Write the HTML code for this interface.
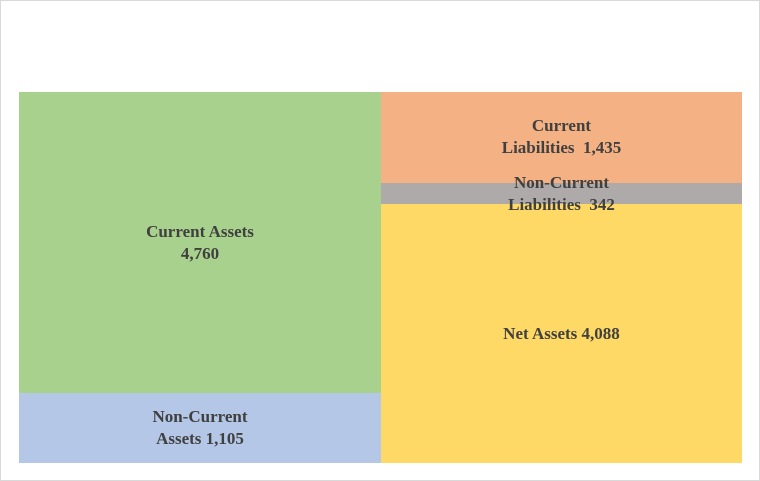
<!DOCTYPE html>
<html><head><meta charset="utf-8"><style>
body{margin:0;background:#fff}
#wrap{position:relative;width:760px;height:481px;box-sizing:border-box;border:1px solid #d9d9d9;background:#fff;font-family:"Liberation Serif",serif}
.cell{position:absolute;display:flex;align-items:center;justify-content:center;text-align:center;font-weight:bold;font-size:17px;color:#404040;line-height:22px;white-space:pre}
</style></head><body>
<div id="wrap"></div>
<script>
const leftNames=["Current Assets\n4,760","Non-Current\nAssets 1,105"];
const leftValues=[4760,1105];
const rightNames=["Current\nLiabilities  1,435","Non-Current\nLiabilities  342","Net Assets 4,088"];
const rightValues=[1435,342,4088];
const leftColors=["#a9d18e","#b4c7e7"];
const rightColors=["#f4b183","#aeaaaa","#ffd966"];
const keys=[["current-assets","non-current-assets"],["current-liabilities","non-current-liabilities","net-assets"]];
const X0=18,X1=380,X2=741,Y0=91,Y1=462;
const wrap=document.getElementById('wrap');
function col(names,vals,colors,x0,x1,k){
  const tot=vals.reduce((a,b)=>a+b,0);let y=Y0;
  vals.forEach((v,i)=>{
    const h=v/tot*(Y1-Y0);
    const d=document.createElement('div');d.className='cell';
    
    
    d.style.left=x0+'px';d.style.top=y+'px';d.style.width=(x1-x0)+'px';d.style.height=h+'px';
    d.style.background=colors[i];d.textContent=names[i];
    if(h<30){d.style.overflow='visible';d.style.zIndex=2;}
    wrap.appendChild(d);y+=h;
  });
}
col(leftNames,leftValues,leftColors,X0,X1,keys[0]);
col(rightNames,rightValues,rightColors,X1,X2,keys[1]);
</script>
</body></html>
